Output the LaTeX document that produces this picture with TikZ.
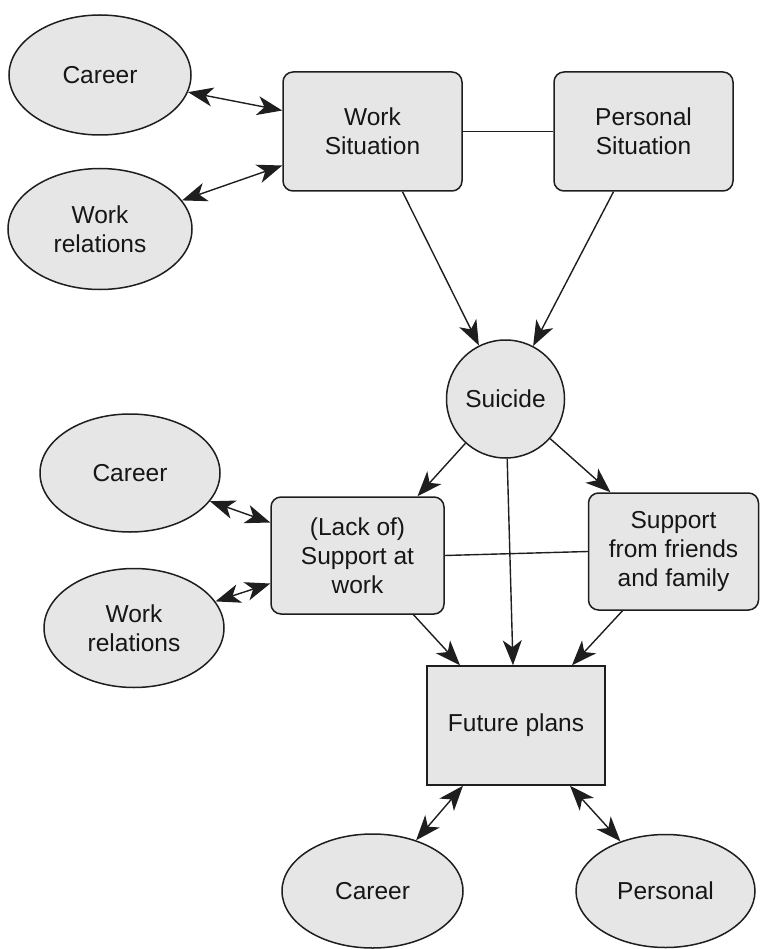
\documentclass[tikz,border=0pt]{standalone}
\usepackage{fontspec}
\setmainfont{Liberation Sans}
\usetikzlibrary{arrows.meta,shapes.geometric}
\definecolor{boxfill}{HTML}{E6E6E6}
\definecolor{edge}{HTML}{1E1E1E}
\definecolor{ink}{HTML}{161616}
\begin{document}
\begin{tikzpicture}[x=1pt,y=-1pt,
  base/.style={draw=edge,line width=1.5pt,fill=boxfill,text=ink,align=center,
    inner sep=0pt,font=\fontsize{24.5}{29}\selectfont},
  oval/.style={base,ellipse,minimum width=181pt,minimum height=118pt},
  roundbox/.style={base,rectangle,rounded corners=10pt},
  plainbox/.style={base,rectangle},
  disc/.style={base,circle,minimum size=118pt},
  link/.style={draw=edge,line width=1.4pt},
  headtip/.tip={Stealth[length=25pt,width=19pt,inset=7pt]},
  arr/.style={link,-headtip},
  biarr/.style={link,headtip-headtip}]
\useasboundingbox (0,0) rectangle (760,949);

% upper level
\node[oval,minimum width=182pt,minimum height=120pt] (c1) at (100,75) {Career};
\node[oval,minimum width=184pt,minimum height=121pt] (w1) at (100,229) {Work\\relations};
\node[roundbox,minimum width=179pt,minimum height=119pt] (ws) at (372.5,131.5) {Work\\Situation};
\node[roundbox,minimum width=179pt,minimum height=119pt] (ps) at (643.5,131.5) {Personal\\Situation};

% centre
\node[disc] (sui) at (505.5,399) {Suicide};

% middle level
\node[oval,minimum width=180pt,minimum height=118pt] (c2) at (130,473) {Career};
\node[oval,minimum width=180pt,minimum height=119pt] (w2) at (134,628) {Work\\relations};
\node[roundbox,minimum width=173pt,minimum height=117pt] (lk) at (357.5,555.5) {(Lack of)\\Support at\\work};
\node[roundbox,minimum width=170pt,minimum height=117pt] (fr) at (673.5,551.5) {Support\\from friends\\and family};

% lower level
\node[plainbox,minimum width=178pt,minimum height=119pt] (fp) at (516,725.5) {Future plans};
\node[oval,minimum width=181pt,minimum height=114pt] (c3) at (372.5,891) {Career};
\node[oval,minimum width=179pt,minimum height=113pt] (pe) at (665.5,891) {Personal};

% connectors
\draw[biarr] (c1) -- ([yshift=21pt]ws.west);
\draw[biarr] (w1) -- ([yshift=-34pt]ws.west);
\draw[link] (ws.east) -- (ps.west);
\draw[arr] ([xshift=30pt]ws.south) -- (sui);
\draw[arr] ([xshift=-30pt]ps.south) -- (sui);

\draw[arr] (sui) -- ([xshift=60pt]lk.north);
\draw[arr] (sui) -- ([xshift=-63pt]fr.north);
\draw[arr] (sui) -- ([xshift=-3pt]fp.north);
\draw[link] (lk.east) -- (fr.west);
\draw[biarr] (c2) -- ([yshift=33pt]lk.west);
\draw[biarr] (w2) -- ([yshift=-28pt]lk.west);

\draw[arr] ([xshift=56pt]lk.south) -- ([xshift=-56pt]fp.north);
\draw[arr] ([xshift=-51pt]fr.south) -- ([xshift=56pt]fp.north);
\draw[biarr] ([xshift=-53pt]fp.south) -- (c3);
\draw[biarr] ([xshift=54pt]fp.south) -- (pe);
\end{tikzpicture}
\end{document}
